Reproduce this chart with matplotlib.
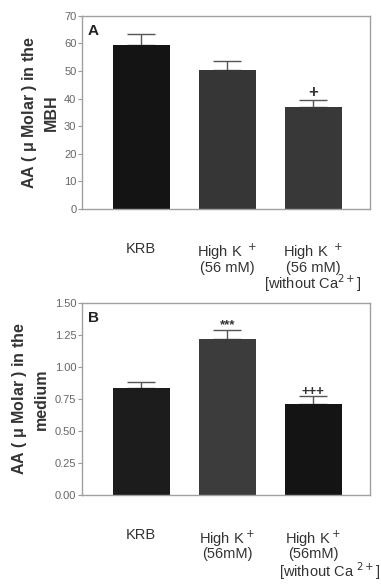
import matplotlib
matplotlib.use("Agg")
import matplotlib.pyplot as plt

plt.rcParams['font.family'] = ['Liberation Sans', 'DejaVu Sans']

# panel A: MBH
a_vals = [59.5, 50.3, 37.0]
a_err = [4.0, 3.2, 2.3]
a_colors = ['#141414', '#363636', '#383838']
a_marks = ['', '', '+']
a_labels = ['KRB', 'High K $^+$\n(56 mM)', 'High K $^+$\n(56 mM)\n[without Ca$^{2+}$]']

# panel B: medium
b_vals = [0.835, 1.22, 0.71]
b_err = [0.045, 0.07, 0.06]
b_colors = ['#1c1c1c', '#3c3c3c', '#141414']
b_marks = ['', '***', '+++']
b_labels = ['KRB', 'High K$^+$\n(56mM)', 'High K$^+$\n(56mM)']


def panel(ax, vals, err, colors, marks, mark_size, labels, ymax, step, fmt,
          letter, ylabel, mark_off):
    x = list(range(len(vals)))
    ax.bar(x, vals, width=0.66, color=colors, zorder=2)
    ax.errorbar(x, vals, yerr=[[0] * len(err), err], fmt='none',
                ecolor='#555555', elinewidth=1, capsize=10, capthick=1, zorder=1)
    for xi, v, e, m in zip(x, vals, err, marks):
        if m:
            ax.text(xi, v + e + mark_off, m, ha='center', va='bottom',
                    fontsize=mark_size, fontweight='bold', color='#333333')
    ax.set_xlim(-0.69, 2.66)
    ax.set_ylim(0, ymax)
    ticks = [i * step for i in range(int(round(ymax / step)) + 1)]
    ax.set_yticks(ticks)
    ax.set_yticklabels([fmt.format(t) for t in ticks], fontsize=8, color='#666666')
    ax.set_xticks(x)
    ax.set_xticklabels(labels, fontsize=10.5, color='#333333', va='top',
                       linespacing=0.85)
    ax.tick_params(axis='x', length=0, pad=24)
    ax.tick_params(axis='y', length=3, width=0.8, color='#999999', pad=1)
    for s in ax.spines.values():
        s.set_color('#a0a0a0')
        s.set_linewidth(1)
    ax.text(0.02, 0.96, letter, transform=ax.transAxes, ha='left', va='top',
            fontsize=11, fontweight='bold', color='#222222')
    ax.set_ylabel(ylabel, fontsize=11.5, fontweight='bold', color='#333333',
                  linespacing=1.4, labelpad=4)


fig = plt.figure(figsize=(3.81, 5.85), dpi=100)
ax1 = fig.add_axes([0.215, 0.643, 0.756, 0.330])
ax2 = fig.add_axes([0.215, 0.154, 0.756, 0.328])

panel(ax1, a_vals, a_err, a_colors, a_marks, 12, a_labels, 70, 10, '{:.0f}', 'A',
      'AA ( $\\mathregular{\\mu}$ Molar ) in the\nMBH', 0.3)
panel(ax2, b_vals, b_err, b_colors, b_marks, 9.5, b_labels, 1.5, 0.25, '{:.2f}', 'B',
      'AA ( $\\mathregular{\\mu}$ Molar ) in the\nmedium', -0.01)

ax2.text(2.2, -0.51, '[without Ca $^{2+}$]', ha='center', va='top', fontsize=10.5,
         color='#333333', clip_on=False)

fig.savefig('out.png', dpi=100)
